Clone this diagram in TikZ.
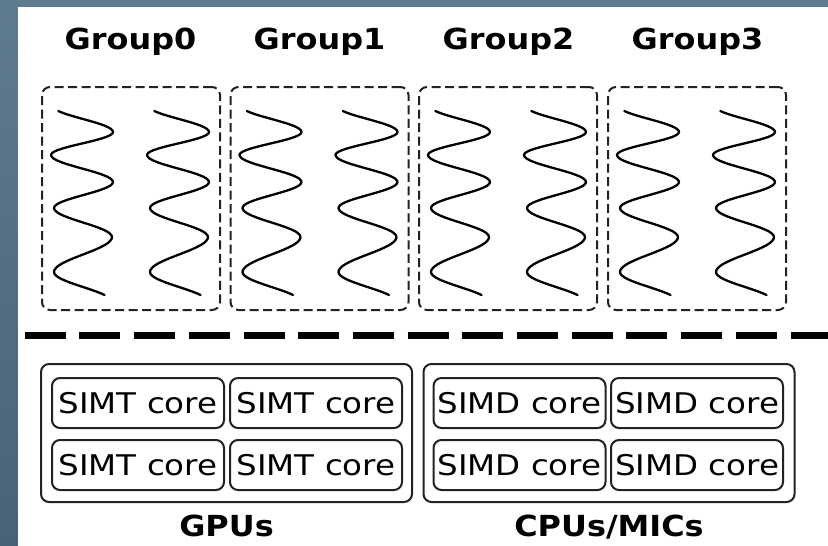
\documentclass[tikz,border=0pt]{standalone}
\usepackage{fontspec}
\setmainfont{DejaVu Sans}
\newfontfamily\corefont[FakeStretch=1.14]{DejaVu Sans}
\newfontfamily\labfont[FakeStretch=1.10]{DejaVu Sans}
\definecolor{bgblue}{HTML}{5F7B8E}
\definecolor{bgdark}{HTML}{4A6275}
\definecolor{linegray}{HTML}{222222}
\tikzset{
  groupbox/.style={draw=linegray, line width=2pt, dash pattern=on 9pt off 4.5pt, rounded corners=8pt, minimum width=178pt, minimum height=223pt, inner sep=0pt},
  outerbox/.style={draw=linegray, line width=2pt, rounded corners=8pt, minimum width=371pt, minimum height=138pt, inner sep=0pt},
  corebox/.style={draw=linegray, line width=2pt, rounded corners=8pt, minimum width=172pt, minimum height=50pt, inner sep=0pt, font=\corefont\fontsize{28.5}{32}\selectfont},
  grouplabel/.style={anchor=base, inner sep=0pt, font=\labfont\bfseries\fontsize{29}{34}\selectfont},
  wave/.style={draw=black, line width=2.3pt, line join=round, line cap=round},
  sepline/.style={draw=black, line width=7pt, dash pattern=on 41pt off 13.7pt}
}
\newcommand{\thread}[1]{%
  \begin{scope}[shift={(#1,0)}]
    \draw[wave]
      plot[domain=111:132, samples=14] ({-30*cos(180*(\x-106)/26)},\x)
      -- plot[domain=132:155, samples=16] ({-1+31*cos(180*(\x-132)/23)},\x)
      -- plot[domain=155:182, samples=16] ({-1-31*cos(180*(\x-155)/27)},\x)
      -- plot[domain=182:208, samples=16] ({0.5+29.5*cos(180*(\x-182)/26)},\x)
      -- plot[domain=208:237, samples=16] ({-29*cos(180*(\x-208)/29)},\x)
      -- plot[domain=237:272, samples=18] ({29*cos(180*(\x-237)/35)},\x)
      -- plot[domain=272:295, samples=14] ({-29*cos(180*(\x-272)/30)},\x);
  \end{scope}}
\begin{document}
\begin{tikzpicture}[x=1pt,y=-1pt]
\useasboundingbox (0,0) rectangle (828,546);
% background frame
\fill[bgblue] (0,0) rectangle (828,7);
\shade[top color=bgblue, bottom color=bgdark] (0,7) rectangle (18,546);
\fill[white] (18,7) rectangle (828,546);
% group titles
\node[grouplabel] (t0) at (130.5,49) {Group0};
\node[grouplabel] (t1) at (319.5,49) {Group1};
\node[grouplabel] (t2) at (508.5,49) {Group2};
\node[grouplabel] (t3) at (697.5,49) {Group3};
% group boxes
\node[groupbox] (g0) at (131,198.5) {};
\node[groupbox] (g1) at (319.5,198.5) {};
\node[groupbox] (g2) at (508,198.5) {};
\node[groupbox] (g3) at (697,198.5) {};
% threads (waves)
\foreach \bx in {42,230.5,419,608}{
  \foreach \dx in {41,137}{
    \pgfmathsetmacro{\cx}{\bx+\dx}
    \thread{\cx}
  }
}
% separator
\coordinate (sepA) at (24.7,335);
\coordinate (sepB) at (835,335);
\draw[sepline] (sepA) -- (sepB);
% hardware boxes
\node[outerbox] (gpu) at (226.5,433) {};
\node[outerbox] (cpu) at (609,433) {};
\node[corebox] (gc1) at (138,403) {SIMT core};
\node[corebox] (gc2) at (316,403) {SIMT core};
\node[corebox] (gc3) at (138,465) {SIMT core};
\node[corebox] (gc4) at (316,465) {SIMT core};
\node[corebox] (cc1) at (519.5,403) {SIMD core};
\node[corebox] (cc2) at (697,403) {SIMD core};
\node[corebox] (cc3) at (519.5,465) {SIMD core};
\node[corebox] (cc4) at (697,465) {SIMD core};
\node[grouplabel] (lg) at (226.5,536) {GPUs};
\node[grouplabel] (lc) at (609,536) {CPUs/MICs};
\end{tikzpicture}
\end{document}
